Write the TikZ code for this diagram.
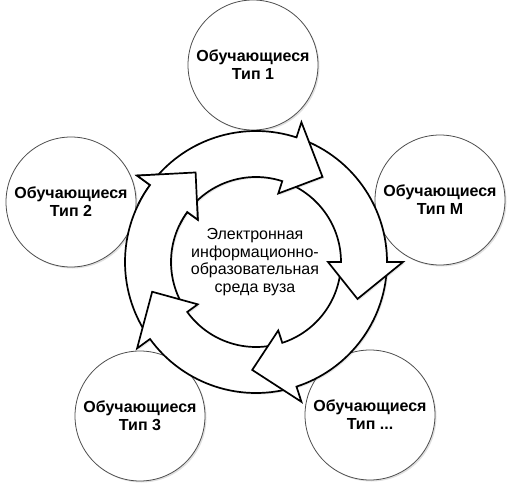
\documentclass[tikz,border=0pt]{standalone}
\usepackage{fontspec}
\setmainfont{Liberation Sans}
\usetikzlibrary{shadows}
\tikzset{
  grp/.style={circle, draw=black!70, line width=0.8pt, fill=white,
    minimum size=130pt, inner sep=0pt, align=center,
    font=\bfseries\fontsize{16}{18}\selectfont,
    drop shadow={shadow xshift=1.5pt, shadow yshift=-1.5pt, opacity=0.25}},
  arr/.style={draw=black, line width=1.7pt, fill=white, line join=miter},
  arrshadow/.style={arr, drop shadow={shadow xshift=1.5pt, shadow yshift=-1.5pt, opacity=0.2}},
  centertext/.style={align=center, font=\fontsize{16}{17.5}\selectfont, inner sep=0pt},
}
\newcommand\cyclearrow[2]{%
  \pgfmathsetmacro\myTail{#1+87}%
  \pgfmathsetmacro\myBase{#1+20}%
  \path[#2] (\myTail:131pt) arc[start angle=\myTail, end angle=\myBase, radius=131pt]
    -- (\myBase:147pt) -- (#1:108pt) -- (\myBase:72pt) -- (\myBase:85pt)
    arc[start angle=\myBase, end angle=\myTail, radius=85pt] -- cycle;}
\begin{document}
\begin{tikzpicture}[x=1pt, y=1pt]
\useasboundingbox (0,0) rectangle (512,491);
% outer circles
\node[grp] (t1) at (253,426) {Обучающиеся\\Тип 1};
\node[grp] (t2) at (71,289) {Обучающиеся\\Тип 2};
\node[grp] (tm) at (440,291) {Обучающиеся\\Тип М};
\node[grp] (t3) at (140,75) {Обучающиеся\\Тип 3};
\node[grp] (tx) at (370,76) {Обучающиеся\\Тип ...};
% cycle of arrows
\begin{scope}[shift={(256,229)}]
  \cyclearrow{124}{arrshadow}
  \cyclearrow{196}{arrshadow}
  \cyclearrow{268}{arrshadow}
  \cyclearrow{340}{arrshadow}
  \cyclearrow{52}{arrshadow}
  \begin{scope}
    \clip (0,0) -- (114:180pt) arc[start angle=114, end angle=154, radius=180pt] -- cycle;
    \cyclearrow{124}{arr}
  \end{scope}
\end{scope}
\node[centertext] (env) at (255,229) {Электронная\\информационно-\\образовательная\\среда вуза};
\end{tikzpicture}
\end{document}
